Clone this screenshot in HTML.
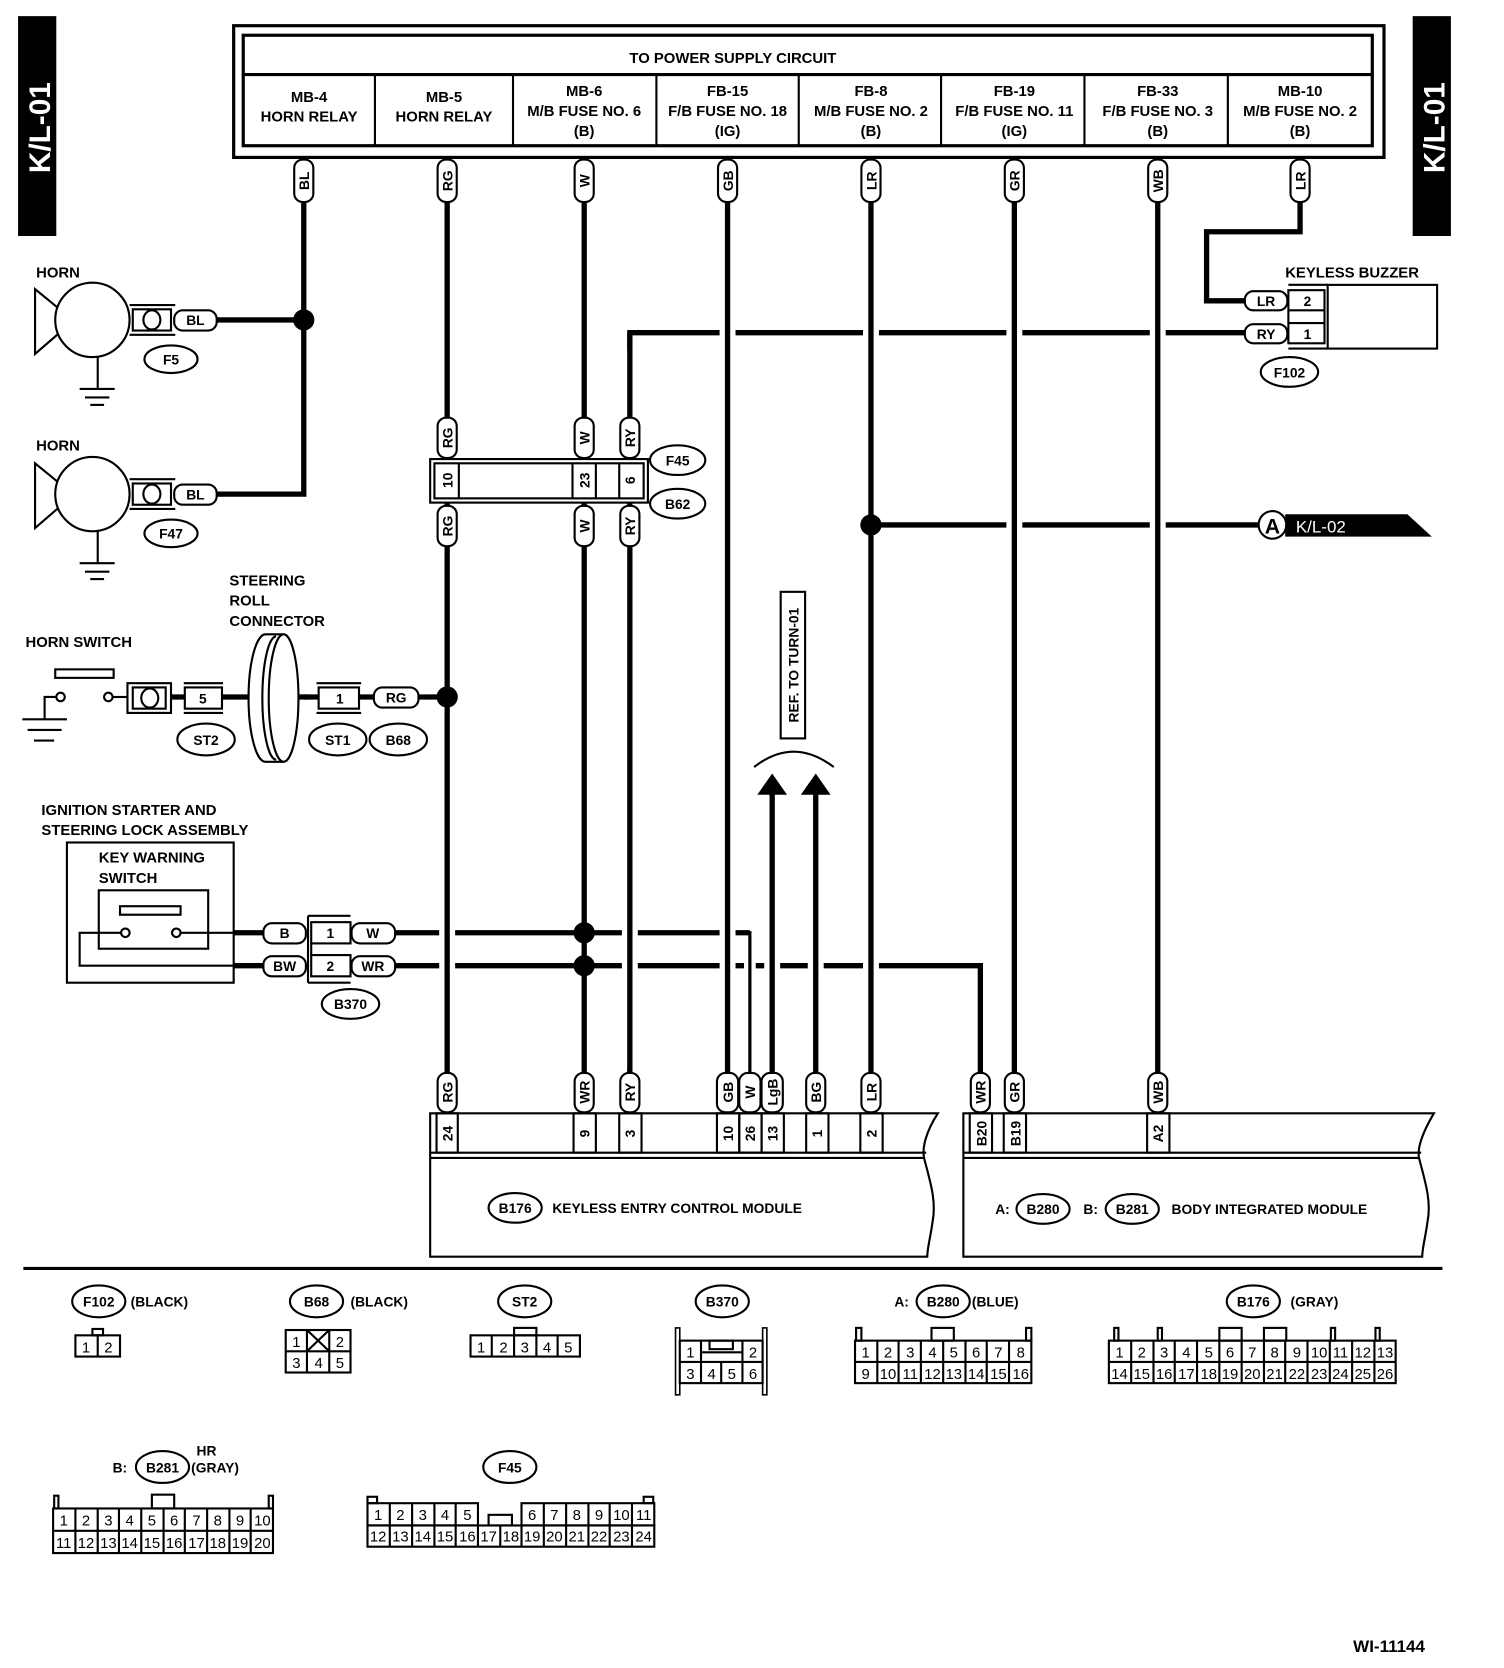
<!DOCTYPE html>
<html><head><meta charset="utf-8"><style>
html,body{margin:0;padding:0;background:#fff}
svg{display:block}
text{font-family:"Liberation Sans",sans-serif;font-weight:bold;fill:#000}
.b{fill:none;stroke:#000;stroke-width:2}
.bw{fill:#fff;stroke:#000;stroke-width:2}
.w{fill:none;stroke:#000;stroke-width:5}
.h{fill:none;stroke:#fff;stroke-width:15}
.t{font-size:13px}
.m{font-size:14px}
.s{font-size:14px;font-weight:normal}
</style></head><body>
<svg width="1504" height="1668" viewBox="0 0 1416 1570" xmlns="http://www.w3.org/2000/svg">
<!-- side tags -->
<rect x="17" y="15" width="36" height="207" fill="#000"/>
<text transform="translate(47,120) rotate(-90)" text-anchor="middle" style="font-size:28px;fill:#fff">K/L-01</text>
<rect x="1330" y="15" width="36" height="207" fill="#000"/>
<text transform="translate(1360,120) rotate(-90)" text-anchor="middle" style="font-size:28px;fill:#fff">K/L-01</text>

<!-- power supply box -->
<rect x="220" y="24" width="1083" height="124" fill="none" stroke="#000" stroke-width="3"/>
<rect x="229" y="33" width="1063" height="104" fill="none" stroke="#000" stroke-width="3"/>
<line x1="229" y1="70" x2="1292" y2="70" stroke="#000" stroke-width="3"/>
<g stroke="#000" stroke-width="2">
<line x1="353" y1="70" x2="353" y2="137"/><line x1="483" y1="70" x2="483" y2="137"/>
<line x1="618" y1="70" x2="618" y2="137"/><line x1="752" y1="70" x2="752" y2="137"/>
<line x1="886" y1="70" x2="886" y2="137"/><line x1="1021" y1="70" x2="1021" y2="137"/>
<line x1="1156" y1="70" x2="1156" y2="137"/></g>
<g class="m" text-anchor="middle">
<text x="690" y="59">TO POWER SUPPLY CIRCUIT</text>
<text x="291" y="96">MB-4</text><text x="291" y="114">HORN RELAY</text>
<text x="418" y="96">MB-5</text><text x="418" y="114">HORN RELAY</text>
<text x="550" y="90">MB-6</text><text x="550" y="109">M/B FUSE NO. 6</text><text x="550" y="128">(B)</text>
<text x="685" y="90">FB-15</text><text x="685" y="109">F/B FUSE NO. 18</text><text x="685" y="128">(IG)</text>
<text x="820" y="90">FB-8</text><text x="820" y="109">M/B FUSE NO. 2</text><text x="820" y="128">(B)</text>
<text x="955" y="90">FB-19</text><text x="955" y="109">F/B FUSE NO. 11</text><text x="955" y="128">(IG)</text>
<text x="1090" y="90">FB-33</text><text x="1090" y="109">F/B FUSE NO. 3</text><text x="1090" y="128">(B)</text>
<text x="1224" y="90">MB-10</text><text x="1224" y="109">M/B FUSE NO. 2</text><text x="1224" y="128">(B)</text>
</g>

<!-- horizontal wires -->
<path class="w" d="M203,301 H286 M286,190 V465 H203"/>
<path class="w" d="M1172,313 H593 V1010"/>
<path class="w" d="M820,494 H1185"/>
<path class="w" d="M1224,190 V218 H1136 V283 H1172"/>
<path class="w" d="M393,656 H421"/>
<path class="w" d="M220,878 H248 M220,909 H248"/>
<path class="w" d="M372,878 H706"/>
<path class="w" d="M372,909 H923 V1010"/>

<!-- vertical wires with halos -->
<line class="h" x1="421" y1="195" x2="421" y2="1005"/><line class="w" x1="421" y1="190" x2="421" y2="1010"/>
<line class="h" x1="550" y1="195" x2="550" y2="1005"/><line class="w" x1="550" y1="190" x2="550" y2="1010"/>
<line class="h" x1="593" y1="330" x2="593" y2="1005"/><line class="w" x1="593" y1="313" x2="593" y2="1010"/>
<line class="h" x1="685" y1="195" x2="685" y2="1005"/><line class="w" x1="685" y1="190" x2="685" y2="1010"/>
<line stroke="#fff" stroke-width="11" x1="706" y1="892" x2="706" y2="1005"/><path d="M700,878 H706 V1010" fill="none" stroke="#000" stroke-width="3"/>
<line class="h" x1="727" y1="750" x2="727" y2="1005"/><line class="w" x1="727" y1="745" x2="727" y2="1010"/>
<line class="h" x1="768" y1="750" x2="768" y2="1005"/><line class="w" x1="768" y1="745" x2="768" y2="1010"/>
<line class="h" x1="820" y1="195" x2="820" y2="1005"/><line class="w" x1="820" y1="190" x2="820" y2="1010"/>
<line class="h" x1="955" y1="195" x2="955" y2="1005"/><line class="w" x1="955" y1="190" x2="955" y2="1010"/>
<line class="h" x1="1090" y1="195" x2="1090" y2="1005"/><line class="w" x1="1090" y1="190" x2="1090" y2="1010"/>

<!-- junction dots -->
<circle cx="286" cy="301" r="10"/><circle cx="421" cy="656" r="10"/>
<circle cx="550" cy="878" r="10"/><circle cx="550" cy="909" r="10"/>
<circle cx="820" cy="494" r="10"/>

<!-- top pills -->
<g class="t" text-anchor="middle">
<rect class="bw" x="277" y="150" width="18" height="40" rx="8"/><text transform="translate(291,170) rotate(-90)">BL</text>
<rect class="bw" x="412" y="150" width="18" height="40" rx="8"/><text transform="translate(426,170) rotate(-90)">RG</text>
<rect class="bw" x="541" y="150" width="18" height="40" rx="8"/><text transform="translate(555,170) rotate(-90)">W</text>
<rect class="bw" x="676" y="150" width="18" height="40" rx="8"/><text transform="translate(690,170) rotate(-90)">GB</text>
<rect class="bw" x="811" y="150" width="18" height="40" rx="8"/><text transform="translate(825,170) rotate(-90)">LR</text>
<rect class="bw" x="946" y="150" width="18" height="40" rx="8"/><text transform="translate(960,170) rotate(-90)">GR</text>
<rect class="bw" x="1081" y="150" width="18" height="40" rx="8"/><text transform="translate(1095,170) rotate(-90)">WB</text>
<rect class="bw" x="1215" y="150" width="18" height="40" rx="8"/><text transform="translate(1229,170) rotate(-90)">LR</text>
</g>

<!-- horns -->
<g id="horn1">
<text class="m" x="34" y="261">HORN</text>
<polygon class="bw" points="33,272 55,290 55,314 33,333"/>
<circle class="bw" cx="87" cy="301" r="35"/>
<line class="b" x1="92" y1="336" x2="92" y2="366"/>
<line class="b" x1="75" y1="366" x2="108" y2="366"/><line class="b" x1="80" y1="374" x2="103" y2="374"/><line class="b" x1="85" y1="381" x2="98" y2="381"/>
<line class="b" x1="122" y1="287" x2="165" y2="287"/><line class="b" x1="122" y1="315" x2="165" y2="315"/>
<rect class="bw" x="125" y="291" width="36" height="20"/><ellipse class="b" cx="143" cy="301" rx="8" ry="9"/>
<rect class="bw" x="164" y="292" width="40" height="19" rx="8"/><text class="t" x="184" y="306" text-anchor="middle">BL</text>
<ellipse class="b" cx="161" cy="338" rx="25" ry="13"/><text class="t" x="161" y="343" text-anchor="middle">F5</text>
</g>
<g>
<text class="m" x="34" y="424">HORN</text>
<polygon class="bw" points="33,436 55,454 55,478 33,497"/>
<circle class="bw" cx="87" cy="465" r="35"/>
<line class="b" x1="92" y1="500" x2="92" y2="530"/>
<line class="b" x1="75" y1="530" x2="108" y2="530"/><line class="b" x1="80" y1="538" x2="103" y2="538"/><line class="b" x1="85" y1="545" x2="98" y2="545"/>
<line class="b" x1="122" y1="451" x2="165" y2="451"/><line class="b" x1="122" y1="479" x2="165" y2="479"/>
<rect class="bw" x="125" y="455" width="36" height="20"/><ellipse class="b" cx="143" cy="465" rx="8" ry="9"/>
<rect class="bw" x="164" y="456" width="40" height="19" rx="8"/><text class="t" x="184" y="470" text-anchor="middle">BL</text>
<ellipse class="b" cx="161" cy="502" rx="25" ry="13"/><text class="t" x="161" y="507" text-anchor="middle">F47</text>
</g>

<!-- B62/F45 connector -->
<rect class="bw" x="405" y="432" width="205" height="41"/>
<rect class="b" x="409" y="436" width="197" height="33"/>
<g class="b"><line x1="432" y1="436" x2="432" y2="469"/><line x1="539" y1="436" x2="539" y2="469"/><line x1="561" y1="436" x2="561" y2="469"/><line x1="583" y1="436" x2="583" y2="469"/></g>
<g class="t" text-anchor="middle">
<text transform="translate(426,452) rotate(-90)">10</text>
<text transform="translate(555,452) rotate(-90)">23</text>
<text transform="translate(598,452) rotate(-90)">6</text>
<rect class="bw" x="412" y="393" width="18" height="38" rx="8"/><text transform="translate(426,412) rotate(-90)">RG</text>
<rect class="bw" x="541" y="393" width="18" height="38" rx="8"/><text transform="translate(555,412) rotate(-90)">W</text>
<rect class="bw" x="584" y="393" width="18" height="38" rx="8"/><text transform="translate(598,412) rotate(-90)">RY</text>
<rect class="bw" x="412" y="476" width="18" height="38" rx="8"/><text transform="translate(426,495) rotate(-90)">RG</text>
<rect class="bw" x="541" y="476" width="18" height="38" rx="8"/><text transform="translate(555,495) rotate(-90)">W</text>
<rect class="bw" x="584" y="476" width="18" height="38" rx="8"/><text transform="translate(598,495) rotate(-90)">RY</text>
<ellipse class="b" cx="638" cy="433" rx="26" ry="14"/><text x="638" y="438">F45</text>
<ellipse class="b" cx="638" cy="474" rx="26" ry="14"/><text x="638" y="479">B62</text>
</g>

<!-- Keyless buzzer -->
<text class="m" x="1210" y="261">KEYLESS BUZZER</text>
<rect class="b" x="1250" y="268" width="103" height="60"/>
<line class="b" x1="1213" y1="268" x2="1250" y2="268"/><line class="b" x1="1213" y1="328" x2="1250" y2="328"/>
<rect class="b" x="1213" y="273" width="34" height="50"/>
<line class="b" x1="1213" y1="292" x2="1247" y2="292"/><line class="b" x1="1213" y1="304" x2="1247" y2="304"/>
<g class="t" text-anchor="middle">
<text x="1231" y="288">2</text><text x="1231" y="319">1</text>
<rect class="bw" x="1172" y="274" width="40" height="18" rx="8"/><text x="1192" y="288">LR</text>
<rect class="bw" x="1172" y="305" width="40" height="18" rx="8"/><text x="1192" y="319">RY</text>
<ellipse class="b" cx="1214" cy="350" rx="27" ry="14"/><text x="1214" y="355">F102</text>
</g>
<!-- A K/L-02 -->
<polygon points="1210,484 1325,484 1348,505 1210,505" fill="#000"/>
<circle class="bw" cx="1198" cy="494" r="13"/>
<text x="1198" y="502" text-anchor="middle" style="font-size:20px">A</text>
<text x="1220" y="501" style="font-size:16px;fill:#fff;font-weight:normal">K/L-02</text>

<!-- horn switch -->
<text class="m" x="24" y="609">HORN SWITCH</text>
<rect class="b" x="52" y="630" width="55" height="8"/>
<path class="b" d="M53,656 H42 V677"/>
<line class="b" x1="21" y1="677" x2="63" y2="677"/><line class="b" x1="26" y1="687" x2="58" y2="687"/><line class="b" x1="32" y1="697" x2="51" y2="697"/>
<circle class="bw" cx="57" cy="656" r="4"/><circle class="bw" cx="102" cy="656" r="4"/>
<line class="b" x1="106" y1="656" x2="120" y2="656"/>
<path class="w" d="M160,656 H175 M208,656 H235 M287,656 H300 M338,656 H355"/>
<rect class="bw" x="120" y="643" width="41" height="28"/><rect class="b" x="125" y="647" width="31" height="20"/><ellipse class="b" cx="141" cy="657" rx="8" ry="9"/>
<line class="b" x1="173" y1="643" x2="210" y2="643"/><line class="b" x1="173" y1="671" x2="210" y2="671"/>
<rect class="bw" x="174" y="647" width="35" height="20"/><text class="t" x="191" y="662" text-anchor="middle">5</text>
<text class="m" x="216" y="551">STEERING</text><text class="m" x="216" y="570">ROLL</text><text class="m" x="216" y="589">CONNECTOR</text>
<path class="bw" d="M250,597 L267,597 A14,60 0 0 1 267,717 L250,717 A16,60 0 0 1 250,597 Z"/>
<path class="b" d="M260,599 A13,58 0 0 0 260,715"/>
<path class="b" d="M267,597 A14,60 0 0 0 267,717"/>
<line x1="282" y1="656" x2="290" y2="656" stroke="#000" stroke-width="5"/>
<line class="b" x1="298" y1="643" x2="340" y2="643"/><line class="b" x1="298" y1="671" x2="340" y2="671"/>
<rect class="bw" x="300" y="647" width="38" height="20"/><text class="t" x="320" y="662" text-anchor="middle">1</text>
<rect class="bw" x="352" y="647" width="42" height="19" rx="8"/><text class="t" x="373" y="661" text-anchor="middle">RG</text>
<g class="t" text-anchor="middle">
<ellipse class="b" cx="194" cy="696" rx="27" ry="15"/><text x="194" y="701">ST2</text>
<ellipse class="b" cx="318" cy="696" rx="27" ry="15"/><text x="318" y="701">ST1</text>
<ellipse class="b" cx="375" cy="696" rx="27" ry="15"/><text x="375" y="701">B68</text>
</g>

<!-- ignition / key warning -->
<text class="m" x="39" y="767">IGNITION STARTER AND</text>
<text class="m" x="39" y="786">STEERING LOCK ASSEMBLY</text>
<rect class="b" x="63" y="793" width="157" height="132"/>
<text class="m" x="93" y="812">KEY WARNING</text><text class="m" x="93" y="831">SWITCH</text>
<rect class="b" x="93" y="838" width="103" height="55"/>
<rect class="b" x="113" y="853" width="57" height="8"/>
<path class="b" d="M114,878 H75 V909 H220"/>
<line class="b" x1="170" y1="878" x2="220" y2="878"/>
<circle class="bw" cx="118" cy="878" r="4"/><circle class="bw" cx="166" cy="878" r="4"/>
<g class="t" text-anchor="middle">
<rect class="bw" x="248" y="869" width="40" height="19" rx="8"/><text x="268" y="883">B</text>
<rect class="bw" x="248" y="900" width="40" height="19" rx="8"/><text x="268" y="914">BW</text>
<line class="b" x1="290" y1="862" x2="290" y2="925"/>
<line class="b" x1="290" y1="862" x2="330" y2="862"/><line class="b" x1="290" y1="925" x2="330" y2="925"/>
<rect class="bw" x="293" y="868" width="37" height="20"/><text x="311" y="883">1</text>
<rect class="bw" x="293" y="899" width="37" height="20"/><text x="311" y="914">2</text>
<line class="b" x1="293" y1="888" x2="293" y2="899"/>
<rect class="bw" x="331" y="869" width="41" height="19" rx="8"/><text x="351" y="883">W</text>
<rect class="bw" x="331" y="900" width="41" height="19" rx="8"/><text x="351" y="914">WR</text>
<ellipse class="b" cx="330" cy="945" rx="27" ry="14"/><text x="330" y="950">B370</text>
</g>

<!-- REF TO TURN-01 -->
<rect class="bw" x="735" y="557" width="23" height="138"/>
<text class="t" transform="translate(752,626) rotate(-90)" text-anchor="middle">REF. TO TURN-01</text>
<path class="b" d="M710,722 Q747,693 785,722"/>
<polygon points="713,748 741,748 727,728"/><polygon points="754,748 782,748 768,728"/>

<!-- bottom pills -->
<g class="t" text-anchor="middle">
<rect class="bw" x="412" y="1010" width="18" height="37" rx="8"/><text transform="translate(426,1028) rotate(-90)">RG</text>
<rect class="bw" x="541" y="1010" width="18" height="37" rx="8"/><text transform="translate(555,1028) rotate(-90)">WR</text>
<rect class="bw" x="584" y="1010" width="18" height="37" rx="8"/><text transform="translate(598,1028) rotate(-90)">RY</text>
<rect class="bw" x="675" y="1010" width="20" height="37" rx="8"/><text transform="translate(690,1028) rotate(-90)">GB</text>
<rect class="bw" x="696" y="1010" width="20" height="37" rx="8"/><text transform="translate(711,1028) rotate(-90)">W</text>
<rect class="bw" x="717" y="1010" width="20" height="37" rx="8"/><text transform="translate(732,1028) rotate(-90)">LgB</text>
<rect class="bw" x="759" y="1010" width="18" height="37" rx="8"/><text transform="translate(773,1028) rotate(-90)">BG</text>
<rect class="bw" x="811" y="1010" width="18" height="37" rx="8"/><text transform="translate(825,1028) rotate(-90)">LR</text>
<rect class="bw" x="914" y="1010" width="18" height="37" rx="8"/><text transform="translate(928,1028) rotate(-90)">WR</text>
<rect class="bw" x="946" y="1010" width="18" height="37" rx="8"/><text transform="translate(960,1028) rotate(-90)">GR</text>
<rect class="bw" x="1081" y="1010" width="18" height="37" rx="8"/><text transform="translate(1095,1028) rotate(-90)">WB</text>
</g>

<!-- left module -->
<path d="M405,1048 H883 C872,1065 868,1080 870,1090 C875,1110 882,1130 878,1150 C876,1165 873,1175 873,1183 H405 Z" fill="#fff" stroke="#000" stroke-width="2"/>
<line class="b" x1="405" y1="1085" x2="872" y2="1085"/><line class="b" x1="405" y1="1090" x2="870" y2="1090"/>
<g class="b">
<rect x="411" y="1048" width="20" height="37"/><rect x="540" y="1048" width="21" height="37"/><rect x="583" y="1048" width="21" height="37"/>
<rect x="675" y="1048" width="21" height="37"/><rect x="696" y="1048" width="21" height="37"/><rect x="717" y="1048" width="21" height="37"/>
<rect x="759" y="1048" width="21" height="37"/><rect x="810" y="1048" width="21" height="37"/>
</g>
<g class="t" text-anchor="middle">
<text transform="translate(426,1067) rotate(-90)">24</text><text transform="translate(555,1067) rotate(-90)">9</text><text transform="translate(598,1067) rotate(-90)">3</text>
<text transform="translate(690,1067) rotate(-90)">10</text><text transform="translate(711,1067) rotate(-90)">26</text><text transform="translate(732,1067) rotate(-90)">13</text>
<text transform="translate(774,1067) rotate(-90)">1</text><text transform="translate(825,1067) rotate(-90)">2</text>
<ellipse class="b" cx="485" cy="1137" rx="25" ry="14"/><text x="485" y="1142">B176</text>
</g>
<text class="t" x="520" y="1142">KEYLESS ENTRY CONTROL MODULE</text>

<!-- right module -->
<path d="M907,1048 H1350 C1340,1065 1334,1080 1336,1090 C1341,1110 1348,1130 1344,1150 C1342,1165 1339,1175 1339,1183 H907 Z" fill="#fff" stroke="#000" stroke-width="2"/>
<line class="b" x1="907" y1="1085" x2="1338" y2="1085"/><line class="b" x1="907" y1="1090" x2="1336" y2="1090"/>
<g class="b"><rect x="913" y="1048" width="21" height="37"/><rect x="945" y="1048" width="21" height="37"/><rect x="1080" y="1048" width="21" height="37"/></g>
<g class="t" text-anchor="middle">
<text transform="translate(929,1067) rotate(-90)">B20</text><text transform="translate(961,1067) rotate(-90)">B19</text><text transform="translate(1095,1067) rotate(-90)">A2</text>
<ellipse class="b" cx="982" cy="1138" rx="25" ry="14"/><text x="982" y="1143">B280</text>
<ellipse class="b" cx="1066" cy="1138" rx="25" ry="14"/><text x="1066" y="1143">B281</text>
</g>
<text class="t" x="937" y="1143">A:</text><text class="t" x="1020" y="1143">B:</text>
<text class="t" x="1103" y="1143">BODY INTEGRATED MODULE</text>

<line x1="22" y1="1194" x2="1358" y2="1194" stroke="#000" stroke-width="3"/>

<!-- connector diagrams -->
<g class="t" text-anchor="middle">
<ellipse class="b" cx="93" cy="1225" rx="25" ry="15"/><text x="93" y="1230">F102</text>
<ellipse class="b" cx="298" cy="1225" rx="25" ry="15"/><text x="298" y="1230">B68</text>
<ellipse class="b" cx="494" cy="1225" rx="25" ry="15"/><text x="494" y="1230">ST2</text>
<ellipse class="b" cx="680" cy="1225" rx="25" ry="15"/><text x="680" y="1230">B370</text>
<ellipse class="b" cx="888" cy="1225" rx="25" ry="15"/><text x="888" y="1230">B280</text>
<ellipse class="b" cx="1180" cy="1225" rx="25" ry="15"/><text x="1180" y="1230">B176</text>
<ellipse class="b" cx="153" cy="1381" rx="25" ry="15"/><text x="153" y="1386">B281</text>
<ellipse class="b" cx="480" cy="1381" rx="25" ry="15"/><text x="480" y="1386">F45</text>
</g>
<g class="t">
<text x="123" y="1230">(BLACK)</text><text x="330" y="1230">(BLACK)</text>
<text x="842" y="1230">A:</text><text x="915" y="1230">(BLUE)</text>
<text x="1215" y="1230">(GRAY)</text>
<text x="106" y="1386">B:</text><text x="185" y="1370">HR</text><text x="180" y="1386">(GRAY)</text>
</g>
<g class="s" text-anchor="middle" fill="none">
<!-- F102 -->
<rect class="b" x="87" y="1251" width="10" height="6"/>
<rect class="b" x="71" y="1257" width="42" height="20"/><line class="b" x1="92" y1="1257" x2="92" y2="1277"/>
<text x="81" y="1273" class="s">1</text><text x="102" y="1273" class="s">2</text>
<!-- B68 -->
<rect class="b" x="269" y="1252" width="61" height="40"/><line class="b" x1="269" y1="1272" x2="330" y2="1272"/>
<line class="b" x1="289" y1="1252" x2="289" y2="1292"/><line class="b" x1="310" y1="1252" x2="310" y2="1292"/>
<line class="b" x1="289" y1="1252" x2="310" y2="1272"/><line class="b" x1="310" y1="1252" x2="289" y2="1272"/>
<text x="279" y="1268" class="s">1</text><text x="320" y="1268" class="s">2</text>
<text x="279" y="1288" class="s">3</text><text x="300" y="1288" class="s">4</text><text x="320" y="1288" class="s">5</text>
<!-- ST2 -->
<rect class="b" x="484" y="1250" width="21" height="7"/>
<rect class="b" x="443" y="1257" width="103" height="20"/>
<line class="b" x1="463" y1="1257" x2="463" y2="1277"/><line class="b" x1="484" y1="1257" x2="484" y2="1277"/><line class="b" x1="505" y1="1257" x2="505" y2="1277"/><line class="b" x1="525" y1="1257" x2="525" y2="1277"/>
<text x="453" y="1273" class="s">1</text><text x="474" y="1273" class="s">2</text><text x="494" y="1273" class="s">3</text><text x="515" y="1273" class="s">4</text><text x="535" y="1273" class="s">5</text>
<!-- B370 -->
<rect x="636" y="1250" width="4" height="63" fill="#fff" stroke="#000" stroke-width="1.5"/>
<rect x="718" y="1250" width="4" height="63" fill="#fff" stroke="#000" stroke-width="1.5"/>
<rect class="b" x="640" y="1262" width="78" height="40"/>
<line class="b" x1="640" y1="1282" x2="718" y2="1282"/>
<line class="b" x1="660" y1="1262" x2="660" y2="1302"/><line class="b" x1="699" y1="1262" x2="699" y2="1302"/><line class="b" x1="679" y1="1282" x2="679" y2="1302"/>
<rect class="b" x="668" y="1262" width="22" height="8"/><line class="b" x1="660" y1="1273" x2="699" y2="1273"/>
<text x="650" y="1278" class="s">1</text><text x="709" y="1278" class="s">2</text>
<text x="650" y="1298" class="s">3</text><text x="670" y="1298" class="s">4</text><text x="689" y="1298" class="s">5</text><text x="709" y="1298" class="s">6</text>
<!-- B280 -->
<rect class="b" x="806" y="1250" width="5" height="12"/><rect class="b" x="966" y="1250" width="5" height="12"/><rect class="b" x="877" y="1250" width="21" height="12"/>
<rect class="b" x="805" y="1262" width="166" height="40"/><line class="b" x1="805" y1="1282" x2="971" y2="1282"/>
<path class="b" d="M826,1262V1302M846,1262V1302M867,1262V1302M888,1262V1302M909,1262V1302M929,1262V1302M950,1262V1302"/>
<text x="815" y="1278" class="s">1</text><text x="836" y="1278" class="s">2</text><text x="857" y="1278" class="s">3</text><text x="878" y="1278" class="s">4</text><text x="898" y="1278" class="s">5</text><text x="919" y="1278" class="s">6</text><text x="940" y="1278" class="s">7</text><text x="961" y="1278" class="s">8</text>
<text x="815" y="1298" class="s">9</text><text x="836" y="1298" class="s">10</text><text x="857" y="1298" class="s">11</text><text x="878" y="1298" class="s">12</text><text x="898" y="1298" class="s">13</text><text x="919" y="1298" class="s">14</text><text x="940" y="1298" class="s">15</text><text x="961" y="1298" class="s">16</text>
<!-- B176 -->
<rect class="b" x="1049" y="1250" width="4" height="12"/><rect class="b" x="1090" y="1250" width="4" height="12"/><rect class="b" x="1148" y="1250" width="21" height="12"/><rect class="b" x="1190" y="1250" width="21" height="12"/><rect class="b" x="1253" y="1250" width="4" height="12"/><rect class="b" x="1295" y="1250" width="4" height="12"/>
<rect class="b" x="1044" y="1262" width="270" height="40"/><line class="b" x1="1044" y1="1282" x2="1314" y2="1282"/>
<path class="b" d="M1065,1262V1302M1086,1262V1302M1106,1262V1302M1127,1262V1302M1148,1262V1302M1169,1262V1302M1190,1262V1302M1210,1262V1302M1231,1262V1302M1252,1262V1302M1273,1262V1302M1294,1262V1302"/>
<text x="1054" y="1278" class="s">1</text><text x="1075" y="1278" class="s">2</text><text x="1096" y="1278" class="s">3</text><text x="1117" y="1278" class="s">4</text><text x="1138" y="1278" class="s">5</text><text x="1158" y="1278" class="s">6</text><text x="1179" y="1278" class="s">7</text><text x="1200" y="1278" class="s">8</text><text x="1221" y="1278" class="s">9</text><text x="1242" y="1278" class="s">10</text><text x="1262" y="1278" class="s">11</text><text x="1283" y="1278" class="s">12</text><text x="1304" y="1278" class="s">13</text>
<text x="1054" y="1298" class="s">14</text><text x="1075" y="1298" class="s">15</text><text x="1096" y="1298" class="s">16</text><text x="1117" y="1298" class="s">17</text><text x="1138" y="1298" class="s">18</text><text x="1158" y="1298" class="s">19</text><text x="1179" y="1298" class="s">20</text><text x="1200" y="1298" class="s">21</text><text x="1221" y="1298" class="s">22</text><text x="1242" y="1298" class="s">23</text><text x="1262" y="1298" class="s">24</text><text x="1283" y="1298" class="s">25</text><text x="1304" y="1298" class="s">26</text>
<!-- B281 -->
<rect class="b" x="51" y="1408" width="4" height="12"/><rect class="b" x="253" y="1408" width="4" height="12"/><rect class="b" x="143" y="1407" width="21" height="13"/>
<rect class="b" x="50" y="1420" width="207" height="42"/><line class="b" x1="50" y1="1441" x2="257" y2="1441"/>
<path class="b" d="M71,1420V1462M92,1420V1462M112,1420V1462M133,1420V1462M154,1420V1462M174,1420V1462M195,1420V1462M216,1420V1462M236,1420V1462"/>
<text x="60" y="1436" class="s">1</text><text x="81" y="1436" class="s">2</text><text x="102" y="1436" class="s">3</text><text x="122" y="1436" class="s">4</text><text x="143" y="1436" class="s">5</text><text x="164" y="1436" class="s">6</text><text x="185" y="1436" class="s">7</text><text x="205" y="1436" class="s">8</text><text x="226" y="1436" class="s">9</text><text x="247" y="1436" class="s">10</text>
<text x="60" y="1457" class="s">11</text><text x="81" y="1457" class="s">12</text><text x="102" y="1457" class="s">13</text><text x="122" y="1457" class="s">14</text><text x="143" y="1457" class="s">15</text><text x="164" y="1457" class="s">16</text><text x="185" y="1457" class="s">17</text><text x="205" y="1457" class="s">18</text><text x="226" y="1457" class="s">19</text><text x="247" y="1457" class="s">20</text>
<!-- F45 -->
<rect class="b" x="346" y="1409" width="9" height="6"/><rect class="b" x="606" y="1409" width="9" height="6"/>
<path class="b" d="M346,1415 H450 V1436 H346 Z M491,1415 H616 V1436 H491 Z"/>
<rect class="b" x="460" y="1426" width="22" height="10"/>
<rect class="b" x="346" y="1436" width="270" height="20"/>
<path class="b" d="M367,1415V1456M388,1415V1456M409,1415V1456M429,1415V1456M450,1436V1456M471,1436V1456M491,1436V1456M512,1415V1456M533,1415V1456M554,1415V1456M574,1415V1456M595,1415V1456"/>
<text x="356" y="1431" class="s">1</text><text x="377" y="1431" class="s">2</text><text x="398" y="1431" class="s">3</text><text x="419" y="1431" class="s">4</text><text x="440" y="1431" class="s">5</text>
<text x="501" y="1431" class="s">6</text><text x="522" y="1431" class="s">7</text><text x="543" y="1431" class="s">8</text><text x="564" y="1431" class="s">9</text><text x="585" y="1431" class="s">10</text><text x="606" y="1431" class="s">11</text>
<text x="356" y="1451" class="s">12</text><text x="377" y="1451" class="s">13</text><text x="398" y="1451" class="s">14</text><text x="419" y="1451" class="s">15</text><text x="440" y="1451" class="s">16</text><text x="460" y="1451" class="s">17</text><text x="481" y="1451" class="s">18</text><text x="501" y="1451" class="s">19</text><text x="522" y="1451" class="s">20</text><text x="543" y="1451" class="s">21</text><text x="564" y="1451" class="s">22</text><text x="585" y="1451" class="s">23</text><text x="606" y="1451" class="s">24</text>
</g>

<text x="1274" y="1555" style="font-size:16px">WI-11144</text>
</svg>
</body></html>
